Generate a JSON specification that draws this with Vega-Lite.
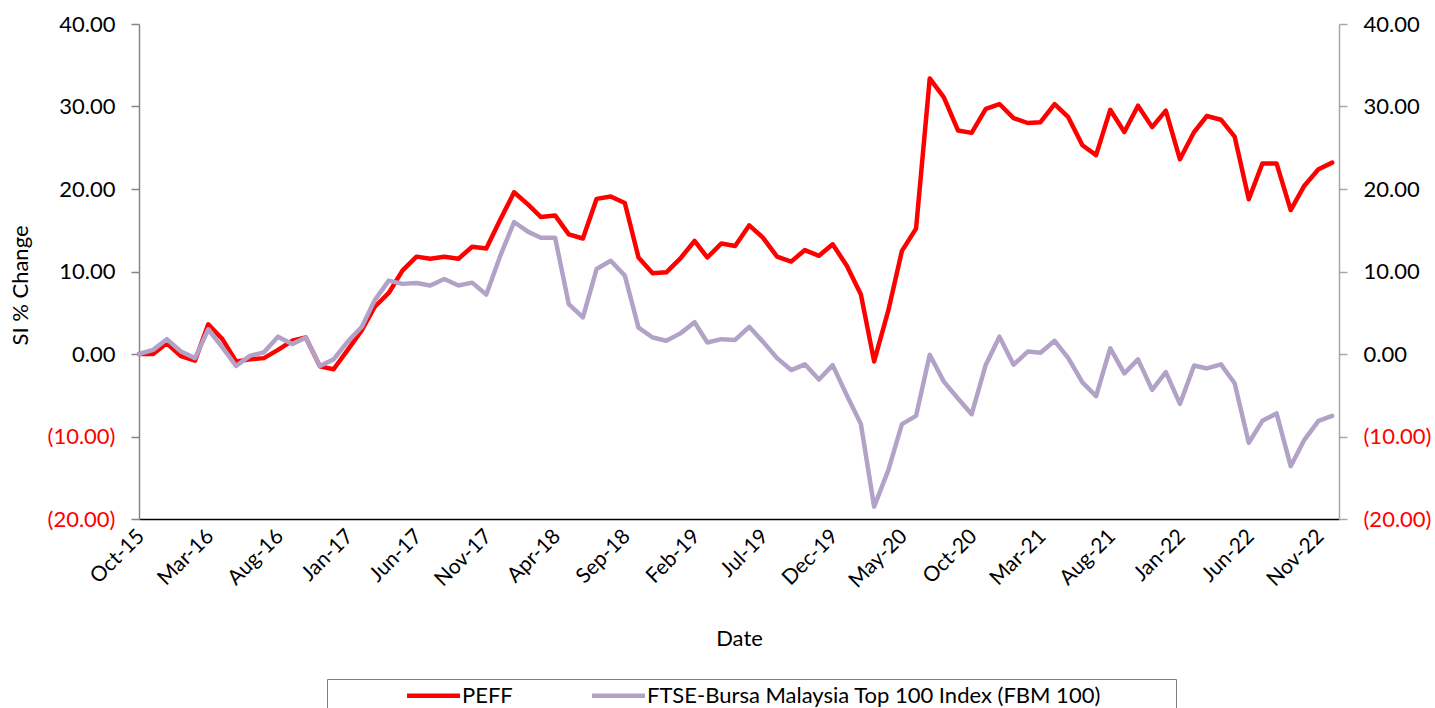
{
  "$schema": "https://vega.github.io/schema/vega-lite/v6.json",
  "autosize": {"type": "none"},
  "padding": {"left": 139, "top": 24, "right": 96, "bottom": 189},
  "width": 1200,
  "height": 495,
  "background": "white",
  "config": {
    "view": {"stroke": null},
    "font": "Lato",
    "axis": {"grid": false, "labelFont": "Lato", "titleFont": "Lato", "titleFontWeight": "normal", "labelColor": "black", "titleColor": "black"}
  },
  "data": {"values": [
    {"date": "2015-10-01T00:00:00", "PEFF": 0.0, "FBM": 0.0},
    {"date": "2015-11-01T00:00:00", "PEFF": 0.0, "FBM": 0.5},
    {"date": "2015-12-01T00:00:00", "PEFF": 1.3, "FBM": 1.8},
    {"date": "2016-01-01T00:00:00", "PEFF": -0.25, "FBM": 0.3},
    {"date": "2016-02-01T00:00:00", "PEFF": -0.8, "FBM": -0.5},
    {"date": "2016-03-01T00:00:00", "PEFF": 3.6, "FBM": 3.0},
    {"date": "2016-04-01T00:00:00", "PEFF": 1.8, "FBM": 0.8},
    {"date": "2016-05-01T00:00:00", "PEFF": -0.9, "FBM": -1.45},
    {"date": "2016-06-01T00:00:00", "PEFF": -0.65, "FBM": -0.2},
    {"date": "2016-07-01T00:00:00", "PEFF": -0.5, "FBM": 0.2},
    {"date": "2016-08-01T00:00:00", "PEFF": 0.5, "FBM": 2.1},
    {"date": "2016-09-01T00:00:00", "PEFF": 1.6, "FBM": 1.2},
    {"date": "2016-10-01T00:00:00", "PEFF": 2.0, "FBM": 2.0},
    {"date": "2016-11-01T00:00:00", "PEFF": -1.5, "FBM": -1.45},
    {"date": "2016-12-01T00:00:00", "PEFF": -1.85, "FBM": -0.65},
    {"date": "2017-01-01T00:00:00", "PEFF": 0.5, "FBM": 1.5},
    {"date": "2017-02-01T00:00:00", "PEFF": 2.9, "FBM": 3.3},
    {"date": "2017-03-01T00:00:00", "PEFF": 5.7, "FBM": 6.5},
    {"date": "2017-04-01T00:00:00", "PEFF": 7.4, "FBM": 8.9},
    {"date": "2017-05-01T00:00:00", "PEFF": 10.1, "FBM": 8.5},
    {"date": "2017-06-01T00:00:00", "PEFF": 11.8, "FBM": 8.6},
    {"date": "2017-07-01T00:00:00", "PEFF": 11.55, "FBM": 8.3},
    {"date": "2017-08-01T00:00:00", "PEFF": 11.8, "FBM": 9.1},
    {"date": "2017-09-01T00:00:00", "PEFF": 11.55, "FBM": 8.3},
    {"date": "2017-10-01T00:00:00", "PEFF": 13.0, "FBM": 8.65},
    {"date": "2017-11-01T00:00:00", "PEFF": 12.8, "FBM": 7.2},
    {"date": "2017-12-01T00:00:00", "PEFF": 16.2, "FBM": 11.8},
    {"date": "2018-01-01T00:00:00", "PEFF": 19.6, "FBM": 16.0},
    {"date": "2018-02-01T00:00:00", "PEFF": 18.1, "FBM": 14.8},
    {"date": "2018-03-01T00:00:00", "PEFF": 16.6, "FBM": 14.1},
    {"date": "2018-04-01T00:00:00", "PEFF": 16.8, "FBM": 14.1},
    {"date": "2018-05-01T00:00:00", "PEFF": 14.5, "FBM": 6.05},
    {"date": "2018-06-01T00:00:00", "PEFF": 14.0, "FBM": 4.45},
    {"date": "2018-07-01T00:00:00", "PEFF": 18.8, "FBM": 10.3},
    {"date": "2018-08-01T00:00:00", "PEFF": 19.1, "FBM": 11.3},
    {"date": "2018-09-01T00:00:00", "PEFF": 18.3, "FBM": 9.5},
    {"date": "2018-10-01T00:00:00", "PEFF": 11.7, "FBM": 3.2},
    {"date": "2018-11-01T00:00:00", "PEFF": 9.8, "FBM": 2.0},
    {"date": "2018-12-01T00:00:00", "PEFF": 9.9, "FBM": 1.6},
    {"date": "2019-01-01T00:00:00", "PEFF": 11.6, "FBM": 2.5},
    {"date": "2019-02-01T00:00:00", "PEFF": 13.7, "FBM": 3.85},
    {"date": "2019-03-01T00:00:00", "PEFF": 11.7, "FBM": 1.4},
    {"date": "2019-04-01T00:00:00", "PEFF": 13.4, "FBM": 1.8},
    {"date": "2019-05-01T00:00:00", "PEFF": 13.1, "FBM": 1.7},
    {"date": "2019-06-01T00:00:00", "PEFF": 15.6, "FBM": 3.3},
    {"date": "2019-07-01T00:00:00", "PEFF": 14.1, "FBM": 1.5},
    {"date": "2019-08-01T00:00:00", "PEFF": 11.8, "FBM": -0.5},
    {"date": "2019-09-01T00:00:00", "PEFF": 11.2, "FBM": -1.95},
    {"date": "2019-10-01T00:00:00", "PEFF": 12.6, "FBM": -1.25},
    {"date": "2019-11-01T00:00:00", "PEFF": 11.9, "FBM": -3.1},
    {"date": "2019-12-01T00:00:00", "PEFF": 13.3, "FBM": -1.35},
    {"date": "2020-01-01T00:00:00", "PEFF": 10.7, "FBM": -5.0},
    {"date": "2020-02-01T00:00:00", "PEFF": 7.2, "FBM": -8.5},
    {"date": "2020-03-01T00:00:00", "PEFF": -0.9, "FBM": -18.5},
    {"date": "2020-04-01T00:00:00", "PEFF": 5.25, "FBM": -14.1},
    {"date": "2020-05-01T00:00:00", "PEFF": 12.5, "FBM": -8.5},
    {"date": "2020-06-01T00:00:00", "PEFF": 15.2, "FBM": -7.5},
    {"date": "2020-07-01T00:00:00", "PEFF": 33.4, "FBM": -0.1},
    {"date": "2020-08-01T00:00:00", "PEFF": 31.1, "FBM": -3.35},
    {"date": "2020-09-01T00:00:00", "PEFF": 27.1, "FBM": -5.4},
    {"date": "2020-10-01T00:00:00", "PEFF": 26.8, "FBM": -7.3},
    {"date": "2020-11-01T00:00:00", "PEFF": 29.7, "FBM": -1.3},
    {"date": "2020-12-01T00:00:00", "PEFF": 30.3, "FBM": 2.1},
    {"date": "2021-01-01T00:00:00", "PEFF": 28.6, "FBM": -1.3},
    {"date": "2021-02-01T00:00:00", "PEFF": 28.0, "FBM": 0.3},
    {"date": "2021-03-01T00:00:00", "PEFF": 28.1, "FBM": 0.15},
    {"date": "2021-04-01T00:00:00", "PEFF": 30.3, "FBM": 1.6},
    {"date": "2021-05-01T00:00:00", "PEFF": 28.7, "FBM": -0.5},
    {"date": "2021-06-01T00:00:00", "PEFF": 25.3, "FBM": -3.45},
    {"date": "2021-07-01T00:00:00", "PEFF": 24.1, "FBM": -5.1},
    {"date": "2021-08-01T00:00:00", "PEFF": 29.6, "FBM": 0.7},
    {"date": "2021-09-01T00:00:00", "PEFF": 26.9, "FBM": -2.35},
    {"date": "2021-10-01T00:00:00", "PEFF": 30.1, "FBM": -0.65},
    {"date": "2021-11-01T00:00:00", "PEFF": 27.5, "FBM": -4.35},
    {"date": "2021-12-01T00:00:00", "PEFF": 29.5, "FBM": -2.2},
    {"date": "2022-01-01T00:00:00", "PEFF": 23.6, "FBM": -6.05},
    {"date": "2022-02-01T00:00:00", "PEFF": 26.9, "FBM": -1.4},
    {"date": "2022-03-01T00:00:00", "PEFF": 28.85, "FBM": -1.75},
    {"date": "2022-04-01T00:00:00", "PEFF": 28.4, "FBM": -1.25},
    {"date": "2022-05-01T00:00:00", "PEFF": 26.35, "FBM": -3.55},
    {"date": "2022-06-01T00:00:00", "PEFF": 18.75, "FBM": -10.75},
    {"date": "2022-07-01T00:00:00", "PEFF": 23.1, "FBM": -8.1},
    {"date": "2022-08-01T00:00:00", "PEFF": 23.1, "FBM": -7.2},
    {"date": "2022-09-01T00:00:00", "PEFF": 17.45, "FBM": -13.6},
    {"date": "2022-10-01T00:00:00", "PEFF": 20.4, "FBM": -10.4},
    {"date": "2022-11-01T00:00:00", "PEFF": 22.4, "FBM": -8.1},
    {"date": "2022-12-01T00:00:00", "PEFF": 23.2, "FBM": -7.5}
  ]},
  "transform": [{"fold": ["PEFF", "FBM"], "as": ["series", "value"]}],
  "encoding": {
    "x": {
      "field": "date", "type": "temporal",
      "scale": {"domain": [{"year": 2015, "month": 10, "date": 1}, {"year": 2022, "month": 12, "date": 16}]},
      "axis": {
        "title": "Date", "titleFontSize": 22, "titlePadding": 37,
        "format": "%b-%y", "labelAngle": -45, "labelFontSize": 21, "labelPadding": 6, "labelOffset": -6,
        "ticks": false, "domainColor": "black", "domainWidth": 1.5,
        "values": [
          {"year": 2015, "month": 10, "date": 1}, {"year": 2016, "month": 3, "date": 1}, {"year": 2016, "month": 8, "date": 1},
          {"year": 2017, "month": 1, "date": 1}, {"year": 2017, "month": 6, "date": 1}, {"year": 2017, "month": 11, "date": 1},
          {"year": 2018, "month": 4, "date": 1}, {"year": 2018, "month": 9, "date": 1}, {"year": 2019, "month": 2, "date": 1},
          {"year": 2019, "month": 7, "date": 1}, {"year": 2019, "month": 12, "date": 1}, {"year": 2020, "month": 5, "date": 1},
          {"year": 2020, "month": 10, "date": 1}, {"year": 2021, "month": 3, "date": 1}, {"year": 2021, "month": 8, "date": 1},
          {"year": 2022, "month": 1, "date": 1}, {"year": 2022, "month": 6, "date": 1}, {"year": 2022, "month": 11, "date": 1}
        ]
      }
    }
  },
  "layer": [
    {
      "mark": {"type": "line", "strokeWidth": 4.5, "strokeJoin": "round", "strokeCap": "round"},
      "encoding": {
        "y": {
          "field": "value", "type": "quantitative",
          "scale": {"domain": [-20, 40], "nice": false, "zero": false},
          "axis": {
            "orient": "left", "title": "SI % Change", "titleFontSize": 22, "titlePadding": 15, "titleY": 261,
            "values": [-20, -10, 0, 10, 20, 30, 40],
            "labelExpr": "datum.value < 0 ? '(' + format(-datum.value, '.2f') + ')' : format(datum.value, '.2f')",
            "labelColor": {"condition": {"test": "datum.value < 0", "value": "#FF0000"}, "value": "black"},
            "labelFontSize": 22, "labelPadding": 16, "tickSize": 8,
            "domainColor": "#868686", "tickColor": "#868686", "domainWidth": 1.5, "tickWidth": 1.5
          }
        },
        "color": {
          "field": "series", "type": "nominal",
          "scale": {"domain": ["PEFF", "FBM"], "range": ["#FF0000", "#B3A2C7"]},
          "legend": {
            "orient": "none", "legendX": 188, "legendY": 655, "direction": "horizontal",
            "title": null,
            "symbolType": "M-2,0H2", "symbolSize": 702, "symbolStrokeWidth": 4.5,
            "symbolOffset": 90, "columnPadding": 0, "labelOffset": 13,
            "labelFontSize": 22, "labelFont": "Lato", "labelColor": "black", "labelLimit": 1000,
            "labelExpr": "datum.value == 'FBM' ? 'FTSE-Bursa Malaysia Top 100 Index (FBM 100)\u00a0\u00a0\u00a0\u00a0\u00a0\u00a0\u00a0\u00a0\u00a0\u00a0\u00a0\u00a0\u00a0\u200b' : datum.value",
            "strokeColor": "#7f7f7f", "padding": 1, "fillColor": "white"
          }
        }
      }
    },
    {
      "mark": {"type": "line", "opacity": 0},
      "encoding": {
        "detail": {"field": "series", "type": "nominal"},
        "y": {
          "field": "value", "type": "quantitative",
          "scale": {"domain": [-20, 40], "nice": false, "zero": false},
          "axis": {
            "orient": "right", "title": null,
            "values": [-20, -10, 0, 10, 20, 30, 40],
            "labelExpr": "datum.value < 0 ? '(' + format(-datum.value, '.2f') + ')' : format(datum.value, '.2f')",
            "labelColor": {"condition": {"test": "datum.value < 0", "value": "#FF0000"}, "value": "black"},
            "labelFontSize": 22, "labelPadding": 16, "tickSize": 8,
            "domainColor": "#A6A6A6", "tickColor": "#A6A6A6", "domainWidth": 1.5, "tickWidth": 1.5
          }
        }
      }
    }
  ],
  "resolve": {"scale": {"y": "independent"}}
}
